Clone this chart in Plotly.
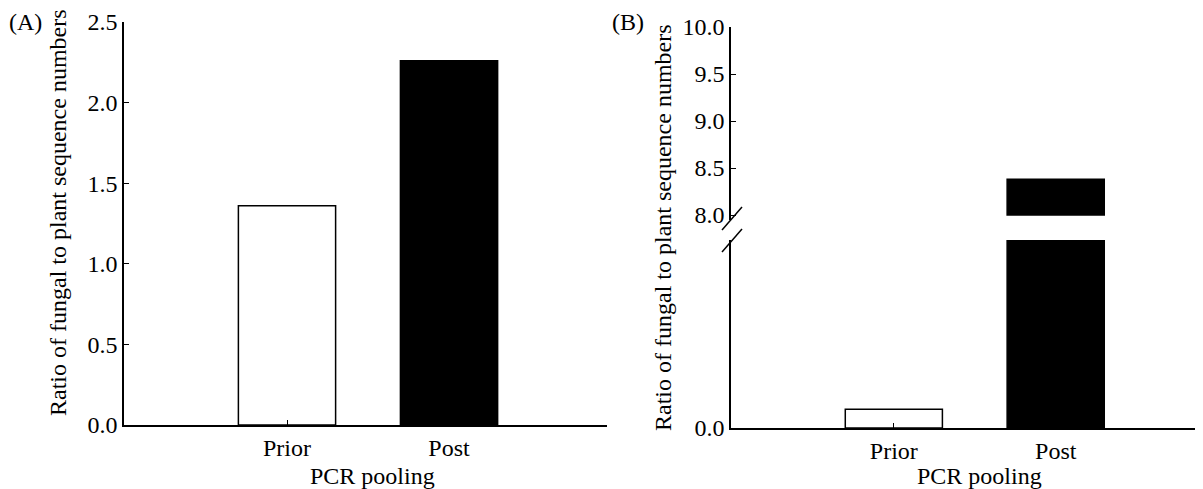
import plotly.graph_objects as go

# ---- data ----
categories = ["Prior", "Post"]
ratio_a = [1.36, 2.26]
ratio_b = [0.2, 8.38]
bar_colors = ["white", "black"]
yticks_a = [0.0, 0.5, 1.0, 1.5, 2.0, 2.5]
yticks_b_upper = [8.0, 8.5, 9.0, 9.5, 10.0]
yticks_b_lower = [0.0]
break_start = 8.0  # upper segment of broken axis starts here

OFF = 8  # page body margin
W, H = 1203 - OFF, 489 - OFF
FONT = "Liberation Serif, Times New Roman, serif"

def px(x):
    return (x - OFF) / W

def py(y):
    return 1 - (y - OFF) / H

fig = go.Figure()

# Panel A
fig.add_trace(go.Bar(x=categories, y=ratio_a, width=0.6,
                     marker=dict(color=bar_colors, line=dict(color="black", width=1.5)),
                     xaxis="x", yaxis="y", showlegend=False))
# Panel B lower segment
fig.add_trace(go.Bar(x=categories, y=ratio_b, width=0.6,
                     marker=dict(color=bar_colors, line=dict(color="black", width=1.5)),
                     xaxis="x2", yaxis="y2", showlegend=False))
# Panel B upper segment (only values above the break)
up_cats = [c for c, v in zip(categories, ratio_b) if v > break_start]
up_vals = [v - break_start for v in ratio_b if v > break_start]
fig.add_trace(go.Bar(x=up_cats, y=up_vals, base=break_start, width=0.6,
                     marker=dict(color="black", line=dict(color="black", width=1.5)),
                     xaxis="x2", yaxis="y3", showlegend=False))

tickfont = dict(family=FONT, size=24, color="black")
xtickfont = dict(family=FONT, size=24, color="black")

common_x = dict(type="category", showline=True, linecolor="black", linewidth=1.5,
                ticks="inside", ticklen=5, tickcolor="black", tickwidth=1,
                showgrid=False, zeroline=False, tickfont=xtickfont, automargin=False)
common_y = dict(showline=True, linecolor="black", linewidth=1.5,
                ticks="inside", ticklen=5, tickcolor="black", tickwidth=1,
                showgrid=False, zeroline=False, tickfont=tickfont, automargin=False,
                tickformat=".1f")

fig.update_layout(
    width=W, height=H, margin=dict(l=0, r=0, t=0, b=0),
    paper_bgcolor="white", plot_bgcolor="white",
    xaxis=dict(common_x, domain=[px(124), px(607)], range=[-1.006, 1.975], anchor="y"),
    yaxis=dict(common_y, domain=[py(425), py(22)], range=[0, 2.5],
               tickvals=yticks_a, anchor="x"),
    xaxis2=dict(common_x, domain=[px(731), 1.0], range=[-1.006, 1.91], anchor="y2"),
    yaxis2=dict(common_y, domain=[py(428), py(240)], range=[0, 2.0],
                tickvals=yticks_b_lower, anchor="x2"),
    yaxis3=dict(common_y, domain=[py(220), py(27)], range=[10 - 193 / 94, 10.0],
                tickvals=yticks_b_upper, anchor="x2"),
)

# axis break marks
for (x0, y0, x1, y1) in [(722, 230, 742, 207), (722, 252, 742, 229)]:
    fig.add_shape(type="line", xref="paper", yref="paper",
                  x0=px(x0), y0=py(y0), x1=px(x1), y1=py(y1),
                  line=dict(color="black", width=1.5))

annfont = dict(family=FONT, size=24, color="black")
anns = [
    dict(text="(A)", x=px(25), y=py(22)),
    dict(text="(B)", x=px(628), y=py(22)),
    dict(text="PCR pooling", x=px(372), y=py(476)),
    dict(text="PCR pooling", x=px(979), y=py(476)),
    dict(text="Ratio of fungal to plant sequence numbers", x=px(58), y=py(213), textangle=-90),
    dict(text="Ratio of fungal to plant sequence numbers", x=px(663), y=py(228), textangle=-90),
]
for a in anns:
    fig.add_annotation(xref="paper", yref="paper", showarrow=False,
                       xanchor="center", yanchor="middle", font=annfont, **a)

fig.write_html("out.html")
